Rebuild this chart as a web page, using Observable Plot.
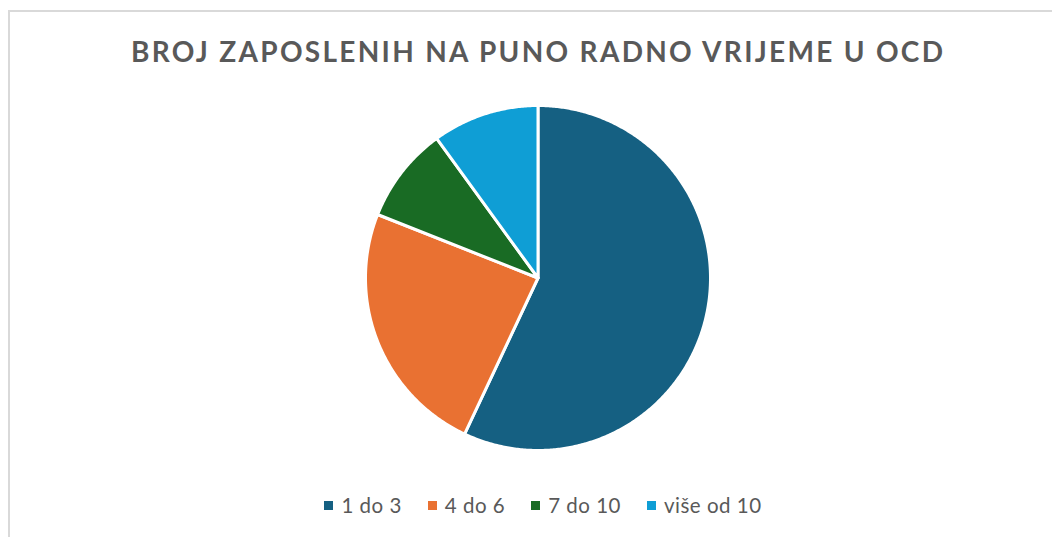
<!DOCTYPE html>
<html><head><meta charset="utf-8">
<script src="https://cdn.jsdelivr.net/npm/d3@7"></script>
<script src="https://cdn.jsdelivr.net/npm/@observablehq/plot@0.6"></script>
<style>
html,body{margin:0;padding:0;background:#fff;width:1052px;height:537px;overflow:hidden;font-family:Lato,"Open Sans",sans-serif;}
#frame{position:absolute;left:8px;top:10px;width:1100px;height:600px;border-top:2px solid #d9d9d9;border-left:2px solid #d9d9d9;box-sizing:border-box;}
#chart{position:absolute;left:8px;top:0;width:1058px;}
#title{position:absolute;left:0;top:34px;width:100%;text-align:center;font-weight:700;font-size:28px;letter-spacing:2.3px;padding-left:2.3px;box-sizing:border-box;color:#595959;line-height:34px;white-space:nowrap;}
#plot{position:absolute;left:0;top:95px;}
#legend{position:absolute;left:0;top:491px;width:100%;display:flex;justify-content:center;align-items:center;font-size:20.5px;letter-spacing:0.5px;color:#595959;line-height:28px;padding-left:12px;box-sizing:border-box;}
.item{display:flex;align-items:center;margin:0 13px;}
.sw{width:9px;height:9px;margin-right:8px;}
</style>
</head><body>
<div id="frame"></div>
<div id="chart">
  <div id="title"></div>
  <div id="plot"></div>
  <div id="legend"></div>
</div>
<script>
const titleText = "BROJ ZAPOSLENIH NA PUNO RADNO VRIJEME U OCD";
const categories = ["1 do 3", "4 do 6", "7 do 10", "više od 10"];
const values = [57, 24, 9, 10];
const colors = ["#156082", "#E97132", "#196B24", "#0F9ED5"];

document.getElementById("title").textContent = titleText;

const data = categories.map((c, i) => ({category: c, value: values[i]}));
const arcs = d3.pie().sort(null).value(d => d.value)(data);

// Build slice outlines in unit-circle coordinates from the pie angles
const pts = [];
arcs.forEach(a => {
  const cat = a.data.category;
  pts.push({category: cat, x: 0, y: 0});
  const n = Math.max(2, Math.ceil((a.endAngle - a.startAngle) / (Math.PI / 360)));
  for (let k = 0; k <= n; k++) {
    const t = a.startAngle + (a.endAngle - a.startAngle) * k / n;
    pts.push({category: cat, x: Math.sin(t), y: Math.cos(t)});
  }
});

const W = 1058, H = 365, R = 172.5, CX = 529.5, CY = 182.5;
const chart = Plot.plot({
  width: W,
  height: H,
  marginLeft: CX - R,
  marginRight: W - CX - R,
  marginTop: CY - R,
  marginBottom: H - CY - R,
  x: {domain: [-1, 1], axis: null},
  y: {domain: [-1, 1], axis: null},
  color: {domain: categories, range: colors},
  marks: [
    Plot.line(pts, {x: "x", y: "y", z: "category", fill: "category", stroke: "white", strokeWidth: 3, strokeLinejoin: "round", curve: "linear-closed"})
  ]
});
document.getElementById("plot").appendChild(chart);

const legend = document.getElementById("legend");
categories.forEach((c, i) => {
  const it = document.createElement("div");
  it.className = "item";
  const sw = document.createElement("div");
  sw.className = "sw";
  sw.style.background = colors[i];
  const tx = document.createElement("span");
  tx.textContent = c;
  it.appendChild(sw); it.appendChild(tx);
  legend.appendChild(it);
});
</script>
</body></html>
